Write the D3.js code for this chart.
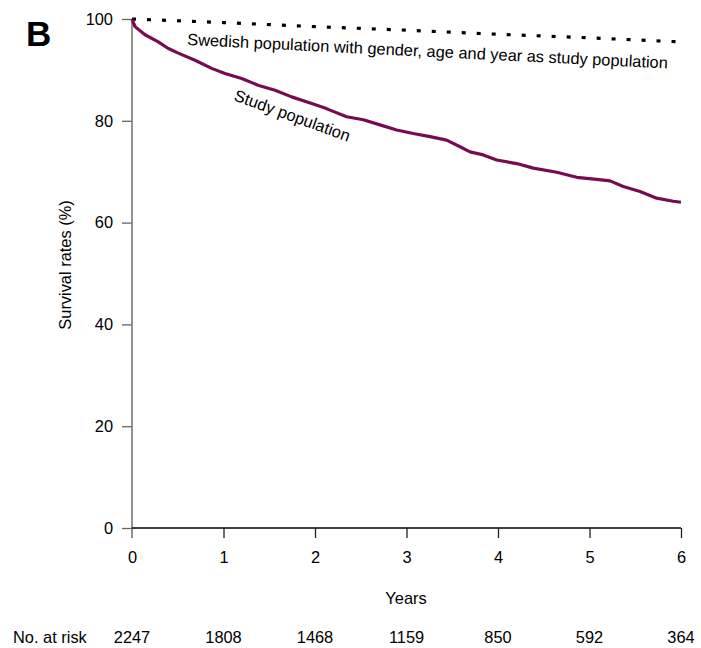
<!DOCTYPE html>
<html><head><meta charset="utf-8">
<script src="https://cdn.jsdelivr.net/npm/d3@7"></script>
<style>body{margin:0;background:#fff;} svg{display:block;font-family:"Liberation Sans",Arial,Helvetica,sans-serif;}</style>
</head><body><svg id="c" width="701" height="648"></svg>
<script>
const studyYears = [0,0.033,0.142,0.287,0.397,0.506,0.689,0.871,1.016,1.199,1.377,1.563,1.745,1.964,2.109,2.164,2.346,2.528,2.710,2.893,3.074,3.257,3.439,3.585,3.694,3.839,3.986,4.204,4.386,4.642,4.860,5.079,5.224,5.369,5.552,5.734,5.916,6.0];
const studySurv  = [100,98.5,96.9,95.5,94.2,93.3,91.9,90.3,89.3,88.3,87.0,86.0,84.7,83.4,82.5,82.1,80.8,80.2,79.2,78.2,77.5,76.9,76.2,74.9,73.9,73.3,72.3,71.6,70.7,69.9,68.9,68.5,68.2,67.1,66.1,64.8,64.2,64.0];
const refYears = [0,1,2,3,4,5,6];
const refSurv  = [100,99.3,98.5,97.8,97.0,96.3,95.5];
const xTicks = [0,1,2,3,4,5,6];
const yTicks = [0,20,40,60,80,100];
const atRisk = [2247,1808,1468,1159,850,592,364];

const FS = 16.4;
const svg = d3.select("#c");
const x = d3.scaleLinear().domain([0,6]).range([132,681]);
const y = d3.scaleLinear().domain([0,100]).range([528,19]);

// y axis (gray)
const ya = svg.append("g").attr("transform","translate(132,0)")
  .call(d3.axisLeft(y).tickValues(yTicks).tickSize(10).tickPadding(9).tickSizeOuter(0));
ya.select(".domain").remove();
ya.selectAll(".tick line").attr("stroke","#666").attr("stroke-width",1.3);
ya.selectAll("text").attr("font-size",FS).attr("fill","#000").attr("font-family","Liberation Sans, Arial, sans-serif");
svg.append("line").attr("x1",132).attr("x2",132).attr("y1",y(100)).attr("y2",538)
  .attr("stroke","#777").attr("stroke-width",1.6);

// x axis (black)
const xa = svg.append("g").attr("transform","translate(0,528)")
  .call(d3.axisBottom(x).tickValues(xTicks).tickFormat(d3.format("d")).tickSize(10).tickPadding(13).tickSizeOuter(0));
xa.select(".domain").attr("d",`M132,0H${x(6)}`).attr("stroke","#000").attr("stroke-width",1.3);
xa.selectAll(".tick line").attr("stroke","#222").attr("stroke-width",1.3);
xa.selectAll(".tick").filter(d=>d===0).select("line").remove();
xa.selectAll("text").attr("font-size",FS).attr("fill","#000").attr("font-family","Liberation Sans, Arial, sans-serif");

// reference line (dotted)
const line = d3.line().x(d=>x(d[0])).y(d=>y(d[1]));
svg.append("path").datum(refYears.map((t,i)=>[t,refSurv[i]]))
  .attr("d",line).attr("fill","none").attr("stroke","#000").attr("stroke-width",3.2)
  .attr("stroke-dasharray","4 11");

// study curve
svg.append("path").datum(studyYears.map((t,i)=>[t,studySurv[i]]))
  .attr("d",line).attr("fill","none").attr("stroke","#780a52").attr("stroke-width",3.2)
  .attr("stroke-linejoin","round");

// curve labels
svg.append("text").attr("transform","translate(187,45) rotate(2.8)")
  .attr("font-size",FS).text("Swedish population with gender, age and year as study population");
svg.append("text").attr("transform","translate(233,100) rotate(20)")
  .attr("font-size",FS).text("Study population");

// titles
svg.append("text").attr("transform","translate(71,265) rotate(-90)").attr("text-anchor","middle")
  .attr("font-size",FS).text("Survival rates (%)");
svg.append("text").attr("x",406).attr("y",604).attr("text-anchor","middle")
  .attr("font-size",FS).text("Years");
svg.append("text").attr("x",26).attr("y",46).attr("font-size",35).attr("font-weight","bold").text("B");

// at risk
svg.append("text").attr("x",13).attr("y",643).attr("font-size",FS).text("No. at risk");
svg.append("g").selectAll("text").data(atRisk).join("text")
  .attr("x",(d,i)=>x(xTicks[i])).attr("y",643).attr("text-anchor","middle")
  .attr("font-size",FS).text(d=>d);
</script></body></html>
